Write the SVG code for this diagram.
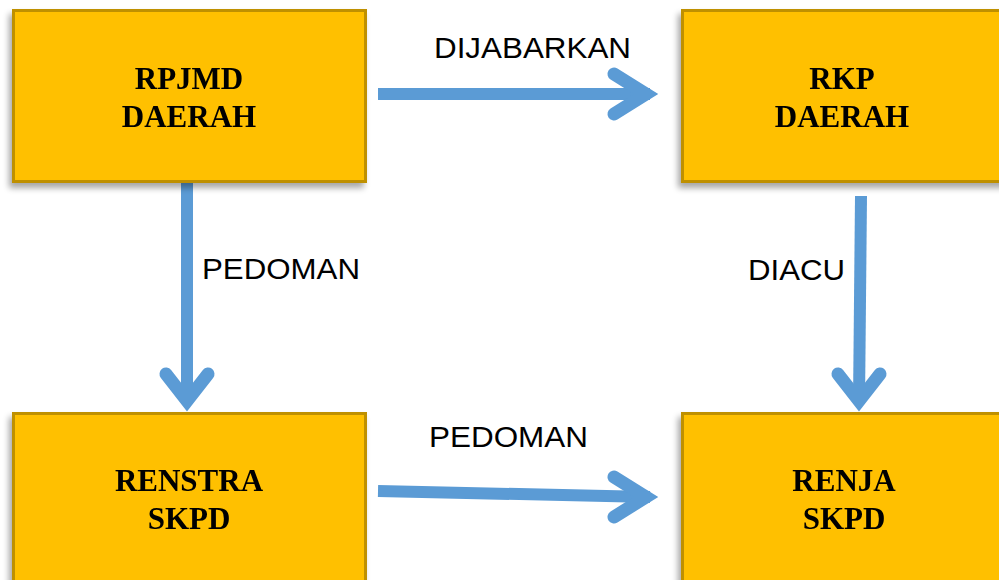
<svg xmlns="http://www.w3.org/2000/svg" width="999" height="580" viewBox="0 0 999 580">
  <style>
    .box { fill: #FFC000; stroke: #BF9000; stroke-width: 3; }
    .title { font-family: "Liberation Serif", "Times New Roman", serif; font-weight: bold; font-size: 31px; fill: #000; text-anchor: middle; }
    .label { font-family: "Liberation Sans", Arial, sans-serif; font-size: 29.5px; fill: #000; }
    .shaft { fill: none; stroke: #5B9BD5; stroke-width: 12; stroke-linecap: butt; }
    .head { fill: none; stroke: #5B9BD5; stroke-width: 13; stroke-linecap: round; stroke-linejoin: miter; stroke-miterlimit: 10; }
  </style>
  <defs>
    <filter id="shadow" x="-10%" y="-10%" width="120%" height="130%">
      <feGaussianBlur in="SourceAlpha" stdDeviation="3"/>
      <feOffset dx="-3" dy="5" result="blur"/>
      <feComponentTransfer><feFuncA type="linear" slope="0.35"/></feComponentTransfer>
      <feMerge><feMergeNode/><feMergeNode in="SourceGraphic"/></feMerge>
    </filter>
  </defs>
  <rect width="999" height="580" fill="#FFFFFF"/>

  <!-- connectors -->
  <g id="connectors">
    <!-- RPJMD -> RKP : DIJABARKAN -->
    <line class="shaft" x1="378" y1="94" x2="650" y2="94"/>
    <polyline class="head" points="614,74 646,94 614,114"/>
    <!-- RPJMD -> RENSTRA : PEDOMAN -->
    <line class="shaft" x1="187" y1="182" x2="187" y2="404"/>
    <polyline class="head" points="166,374 187,401 208,374"/>
    <!-- RKP -> RENJA : DIACU -->
    <line class="shaft" x1="861" y1="196" x2="859" y2="404"/>
    <polyline class="head" points="838,374 859,401 880,374"/>
    <!-- RENSTRA -> RENJA : PEDOMAN -->
    <line class="shaft" x1="378" y1="491" x2="650" y2="497"/>
    <polyline class="head" points="614,477 646,497 614,517"/>
  </g>

  <!-- connector labels -->
  <g id="labels">
    <text class="label" x="434" y="58" textLength="197" lengthAdjust="spacingAndGlyphs">DIJABARKAN</text>
    <text class="label" x="202" y="279" textLength="158" lengthAdjust="spacingAndGlyphs">PEDOMAN</text>
    <text class="label" x="748" y="280" textLength="97" lengthAdjust="spacingAndGlyphs">DIACU</text>
    <text class="label" x="429" y="447" textLength="159" lengthAdjust="spacingAndGlyphs">PEDOMAN</text>
  </g>

  <!-- nodes -->
  <g id="rpjmd" filter="url(#shadow)">
    <rect class="box" x="13.5" y="10.5" width="352" height="171"/>
    <text class="title" x="189" y="89">RPJMD</text>
    <text class="title" x="189" y="127">DAERAH</text>
  </g>
  <g id="rkp" filter="url(#shadow)">
    <rect class="box" x="682.5" y="10.5" width="330" height="171"/>
    <text class="title" x="842" y="89">RKP</text>
    <text class="title" x="842" y="127">DAERAH</text>
  </g>
  <g id="renstra" filter="url(#shadow)">
    <rect class="box" x="13.5" y="413.5" width="352" height="180"/>
    <text class="title" x="189" y="491">RENSTRA</text>
    <text class="title" x="189" y="529">SKPD</text>
  </g>
  <g id="renja" filter="url(#shadow)">
    <rect class="box" x="682.5" y="413.5" width="330" height="180"/>
    <text class="title" x="844" y="491">RENJA</text>
    <text class="title" x="844" y="529">SKPD</text>
  </g>
</svg>
